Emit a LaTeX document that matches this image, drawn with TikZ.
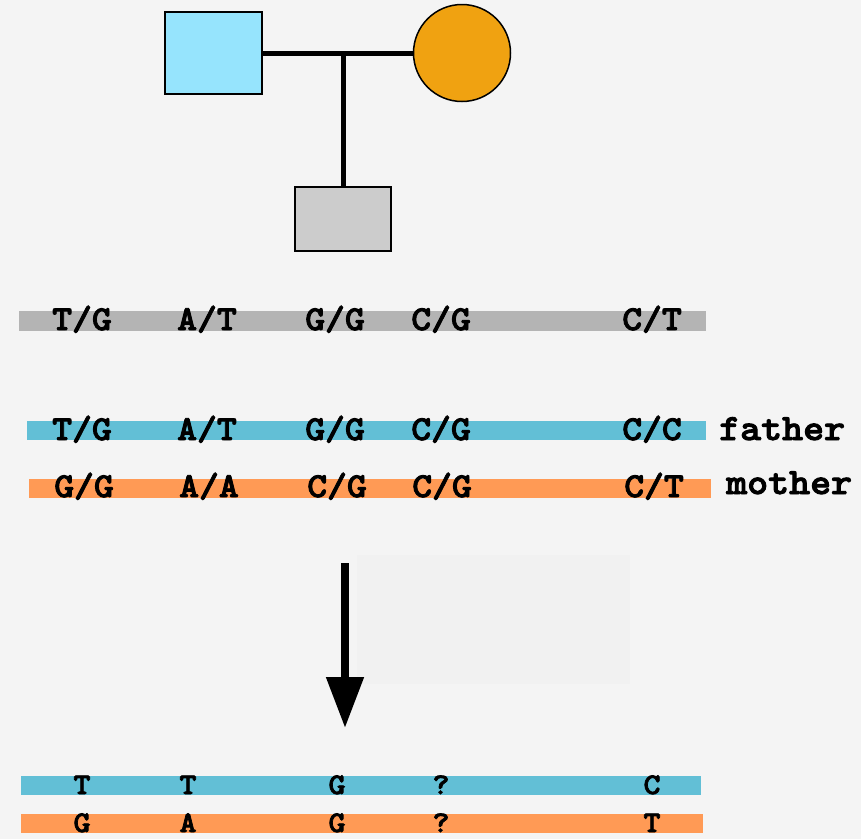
\documentclass[tikz,border=0pt]{standalone}
\usepackage{fontspec}
\newfontfamily\genofont{lmmonolt10-bold.otf}[FakeBold=2.5, FakeStretch=1.08]
\usetikzlibrary{arrows.meta}

\definecolor{bgcol}{HTML}{F4F4F4}
\definecolor{panelcol}{HTML}{F1F1F1}
\definecolor{fathercol}{HTML}{96E4FD}
\definecolor{mothercol}{HTML}{F0A211}
\definecolor{childcol}{HTML}{CCCCCC}
\definecolor{greybar}{HTML}{B4B4B4}
\definecolor{bluebar}{HTML}{62BFD6}
\definecolor{orangebar}{HTML}{FF9A55}

\tikzset{
    member/.style={draw=black, line width=1.5pt, inner sep=0pt},
    allele/.style={font=\fontsize{35}{38}\selectfont\genofont, inner sep=0pt, anchor=base},
    parent/.style={font=\fontsize{37}{40}\selectfont\genofont, inner sep=0pt, anchor=base west},
    haplo/.style={font=\fontsize{30}{32}\selectfont\genofont, inner sep=0pt, anchor=base},
}

\begin{document}
\begin{tikzpicture}[x=1pt, y=-1pt, >=Triangle]
            \useasboundingbox (0,0) rectangle (861,839);
            \fill[bgcol] (0,0) rectangle (861,839);

            % Pedigree
            \node[member, fill=fathercol, minimum width=97pt, minimum height=82pt] (father) at (213.5,53) {};
            \node[member, fill=mothercol, circle, minimum size=97pt] (mother) at (462,53) {};
            \node[member, fill=childcol, minimum width=96pt, minimum height=64pt] (child) at (343,219) {};
            \coordinate (union) at (343,53);
            \draw[line width=5pt] (father.east) -- (mother.west);
            \draw[line width=5pt] (union) -- (child.north);

            % Genotype bars
            \fill[greybar] (19,311) rectangle (706,331);
            \fill[bluebar] (27,421) rectangle (706,440);
            \fill[orangebar] (29,479) rectangle (711,498);

            \foreach \x/\g in {82/T\slash G, 207/A\slash T, 335/G\slash G, 441/C\slash G, 652/C\slash T} {
                    \node[allele] (child-\x) at (\x,330) {\g};
                }
            \foreach \x/\g in {82/T\slash G, 207/A\slash T, 335/G\slash G, 441/C\slash G, 652/C\slash C} {
                    \node[allele] (father-\x) at (\x,440) {\g};
                }
            \foreach \x/\g in {84/G\slash G, 209/A\slash A, 337/C\slash G, 442/C\slash G, 654/C\slash T} {
                    \node[allele] (mother-\x) at (\x,497) {\g};
                }
            \node[parent] (fatherlabel) at (719,440) {father};
            \node[parent] (motherlabel) at (726,494) {mother};

            % Phasing step
            \fill[panelcol] (357,555) rectangle (630,684);
            \coordinate (arrowtop) at (345,563);
            \coordinate (arrowtip) at (345,728);
            \draw[->, line width=8pt, arrows={-Triangle[width=36pt, length=51pt]}] (arrowtop) -- (arrowtip);

            % Resolved haplotypes
            \fill[bluebar] (21,776) rectangle (701,795);
            \fill[orangebar] (21,814) rectangle (703,833);
            \foreach \x/\b in {82/T, 188/T, 337/G, 441/?, 652/C} {
                    \node[haplo] (paternal-\x) at (\x,794) {\b};
                }
            \foreach \x/\b in {82/G, 188/A, 337/G, 441/?, 652/T} {
                    \node[haplo] (maternal-\x) at (\x,832) {\b};
                }
        \end{tikzpicture}
\end{document}
